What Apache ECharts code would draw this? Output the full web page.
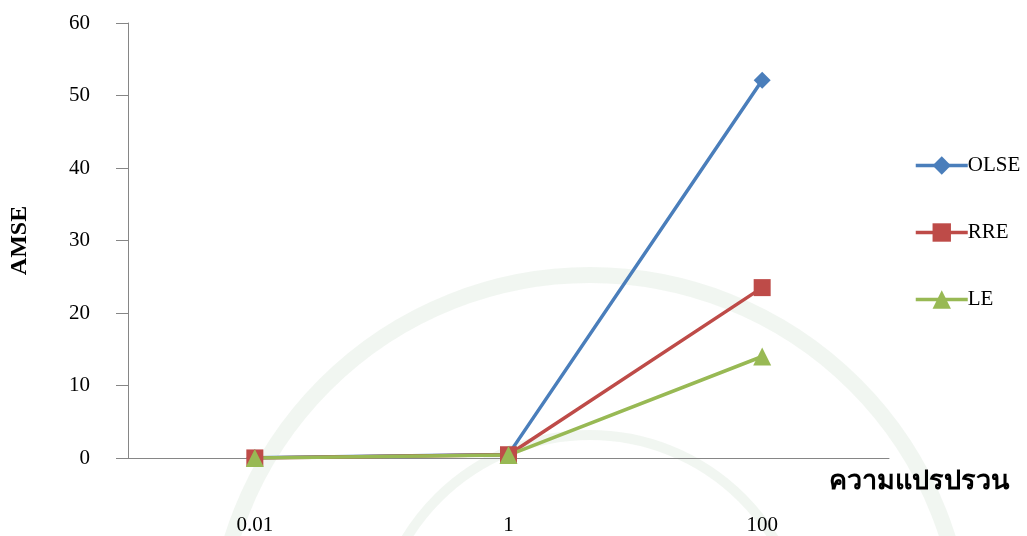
<!DOCTYPE html>
<html>
<head>
<meta charset="utf-8">
<script src="https://cdn.jsdelivr.net/npm/echarts@6/dist/echarts.min.js"></script>
<style>
  html, body { margin: 0; padding: 0; background: #ffffff; }
  #chart { width: 1027px; height: 536px; }
</style>
</head>
<body>
<div id="chart"></div>
<script>
// Variance levels on the category axis
const categories = ['0.01', '1', '100'];

// AMSE of each estimator at each variance level
const olse = [0.02, 0.5, 52.1];
const rre = [0.01, 0.45, 23.5];
const le = [0.01, 0.4, 14.0];

const yTicks = { min: 0, max: 60, interval: 10 };

const SERIF = '"Liberation Serif", "Times New Roman", serif';
const axisGray = '#868686';
const colors = { OLSE: '#4A7EBB', RRE: '#BE4B48', LE: '#98B954' };

const chart = echarts.init(document.getElementById('chart'));

function lineSeries(name, data, symbol, size) {
  return {
    name: name,
    type: 'line',
    data: data,
    symbol: symbol,
    symbolSize: size,
    lineStyle: { color: colors[name], width: 3.5 },
    itemStyle: { color: colors[name] },
    z: 3
  };
}

function legendItem(name) {
  return { name: name, lineStyle: { width: 3.5, color: colors[name] } };
}

chart.setOption({
  backgroundColor: '#ffffff',
  animation: false,
  grid: { left: 127, right: 138, top: 23, bottom: 77, containLabel: false },
  legend: {
    orient: 'vertical',
    left: 909,
    top: 150,
    itemGap: 46,
    itemWidth: 52,
    itemHeight: 23,
    textStyle: { fontFamily: SERIF, fontSize: 21, color: '#000', padding: [0, 0, 0, -5] },
    data: ['OLSE', 'RRE', 'LE'].map(legendItem)
  },
  xAxis: {
    type: 'category',
    data: categories,
    boundaryGap: true,
    axisLine: { lineStyle: { color: axisGray, width: 1 } },
    axisTick: { show: false },
    axisLabel: { margin: 57, fontFamily: SERIF, fontSize: 21, color: '#000' },
    splitLine: { show: false }
  },
  yAxis: {
    type: 'value',
    min: yTicks.min,
    max: yTicks.max,
    interval: yTicks.interval,
    axisLine: { show: true, lineStyle: { color: axisGray, width: 1 } },
    axisTick: { show: true, length: 12, lineStyle: { color: axisGray } },
    axisLabel: { margin: 38, fontFamily: SERIF, fontSize: 21, color: '#000' },
    splitLine: { show: false },
    name: 'AMSE',
    nameLocation: 'middle',
    nameRotate: 90,
    nameGap: 96,
    nameTextStyle: { fontFamily: SERIF, fontSize: 24, fontWeight: 'bold', color: '#000' }
  },
  graphic: [
    // faint seal in the background
    {
      type: 'circle', z: -10, silent: true,
      shape: { cx: 590, cy: 650, r: 375 },
      style: { fill: 'none', stroke: 'rgba(190,215,190,0.22)', lineWidth: 16 }
    },
    {
      type: 'circle', z: -10, silent: true,
      shape: { cx: 590, cy: 650, r: 215 },
      style: { fill: 'none', stroke: 'rgba(190,215,190,0.22)', lineWidth: 10 }
    },
    {
      type: 'text', left: 829, top: 469, z: 5,
      style: { text: 'ความแปรปรวน', font: 'bold 27px ' + SERIF, fill: '#000' }
    }
  ],
  series: [
    lineSeries('OLSE', olse, 'diamond', 17),
    lineSeries('RRE', rre, 'rect', 17),
    lineSeries('LE', le, 'triangle', 18)
  ]
});
</script>
</body>
</html>
